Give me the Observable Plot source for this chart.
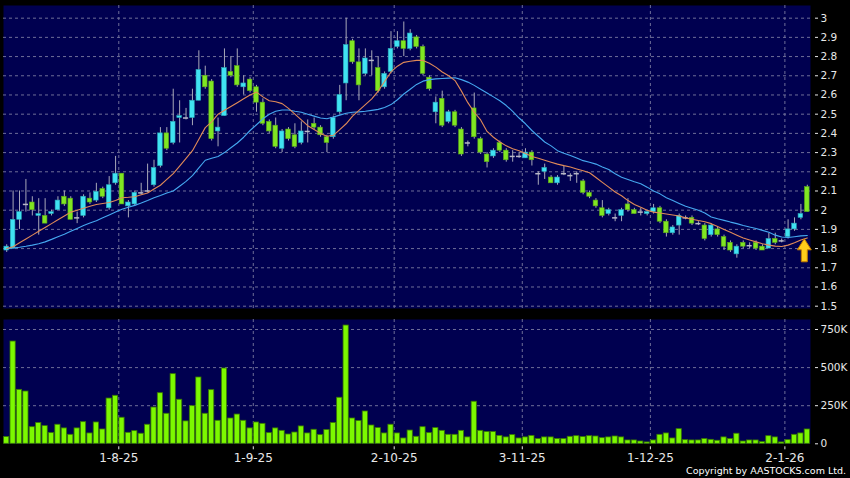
<!DOCTYPE html>
<html>
<head>
<meta charset="utf-8">
<script src="https://cdn.jsdelivr.net/npm/d3@7"></script>
<script src="https://cdn.jsdelivr.net/npm/@observablehq/plot@0.6"></script>
<style>
  html, body { margin: 0; padding: 0; background: #000; }
  #wrap { position: relative; width: 850px; height: 478px; background: #000; overflow: hidden; font-family: "DejaVu Sans", sans-serif; }
  #pricePanel { position: absolute; left: 0; top: 0; }
  #volPanel { position: absolute; left: 0; top: 313px; }
  #copy { position: absolute; right: 4px; top: 465px; color: #fff; font-size: 9.5px; line-height: 12px; white-space: nowrap; }
</style>
</head>
<body>
<div id="wrap">
  <div id="pricePanel"></div>
  <div id="volPanel"></div>
  <div id="copy"></div>
</div>
<script>
// ---- data (one entry per trading day) ----
const opens  = [1.79,1.80,1.95,2.03,2.04,1.97,1.97,1.98,2.00,2.07, 2.06,1.96,1.97,2.06,2.05,2.11,2.01,2.14,2.19,2.02,
                2.03,2.09,2.10,2.13,2.23,2.40,2.35,2.48,2.48,2.48, 2.57,2.70,2.67,2.41,2.49,2.72,2.75,2.64,2.68,2.64,
                2.56,2.46,2.44,2.32,2.42,2.39,2.35,2.41,2.45,2.43, 2.38,2.38,2.51,2.66,2.88,2.77,2.71,2.78,2.74,2.64,
                2.72,2.85,2.88,2.84,2.90,2.85,2.69,2.51,2.58,2.46, 2.51,2.42,2.35,2.53,2.37,2.29,2.28,2.35,2.31,2.28,
                2.28,2.27,2.30,2.19,2.20,2.17,2.14,2.19,2.18,2.19, 2.15,2.09,2.05,2.01,1.98,1.96,1.97,2.03,2.00,1.99,
                1.98,1.99,2.01,1.94,1.88,1.92,1.96,1.96,1.93,1.92, 1.87,1.90,1.86,1.83,1.77,1.83,1.815,1.83,1.81,1.80,
                1.85,1.84,1.86,1.90,1.96,2.12];
const highs  = [1.82,2.10,2.10,2.16,2.07,2.06,2.06,2.00,2.07,2.10, 2.07,1.99,2.08,2.09,2.14,2.12,2.175,2.28,2.19,2.05,
                2.10,2.14,2.24,2.26,2.43,2.43,2.63,2.57,2.53,2.63, 2.83,2.75,2.68,2.48,2.84,2.80,2.84,2.70,2.69,2.65,
                2.58,2.47,2.48,2.42,2.43,2.45,2.46,2.47,2.48,2.44, 2.39,2.49,2.65,3.00,2.89,2.84,2.84,2.83,2.80,2.72,
                2.93,2.93,2.98,2.94,2.91,2.86,2.70,2.59,2.62,2.52, 2.52,2.43,2.36,2.61,2.38,2.30,2.32,2.36,2.32,2.31,
                2.30,2.32,2.31,2.20,2.24,2.18,2.18,2.23,2.19,2.20, 2.16,2.10,2.06,2.05,2.01,1.98,2.01,2.06,2.01,2.01,
                2.00,2.03,2.02,1.95,1.92,1.98,1.97,1.97,1.94,1.93, 1.93,1.91,1.87,1.84,1.82,1.84,1.83,1.84,1.82,1.88,
                1.88,1.85,1.95,1.96,2.03,2.13];
const lows   = [1.78,1.80,1.90,1.99,1.97,1.87,1.93,1.97,2.00,2.02, 1.95,1.93,1.96,2.03,2.04,2.06,2.00,2.13,2.03,1.96,
                2.02,2.08,2.09,2.12,2.22,2.31,2.34,2.35,2.47,2.44, 2.57,2.63,2.36,2.33,2.49,2.69,2.64,2.60,2.61,2.51,
                2.44,2.40,2.32,2.30,2.36,2.32,2.34,2.35,2.42,2.38, 2.30,2.37,2.50,2.57,2.76,2.57,2.70,2.70,2.61,2.63,
                2.71,2.84,2.80,2.83,2.84,2.70,2.62,2.45,2.43,2.45, 2.43,2.28,2.33,2.37,2.29,2.22,2.27,2.30,2.25,2.25,
                2.27,2.27,2.23,2.13,2.16,2.14,2.13,2.18,2.15,2.14, 2.08,2.06,2.01,1.96,1.97,1.94,1.94,1.99,1.98,1.97,
                1.97,1.98,1.93,1.86,1.87,1.87,1.95,1.92,1.92,1.84, 1.86,1.86,1.79,1.78,1.75,1.80,1.80,1.79,1.79,1.80,
                1.82,1.83,1.85,1.89,1.95,1.99];
const closes = [1.81,1.95,1.99,2.03,2.00,1.98,1.93,1.99,2.05,2.03, 1.95,1.96,2.07,2.04,2.095,2.07,2.13,2.19,2.03,2.04,
                2.09,2.09,2.10,2.22,2.40,2.32,2.46,2.49,2.48,2.57, 2.73,2.64,2.37,2.43,2.74,2.70,2.65,2.66,2.62,2.56,
                2.45,2.41,2.33,2.41,2.37,2.33,2.41,2.41,2.43,2.39, 2.35,2.48,2.60,2.86,2.77,2.65,2.79,2.78,2.62,2.71,
                2.84,2.88,2.84,2.92,2.85,2.71,2.63,2.56,2.44,2.51, 2.44,2.29,2.35,2.38,2.30,2.25,2.31,2.31,2.26,2.28,
                2.28,2.30,2.26,2.19,2.22,2.14,2.17,2.19,2.18,2.19, 2.09,2.07,2.02,1.97,2.00,1.96,2.00,2.00,1.98,1.99,
                1.99,2.01,1.94,1.88,1.91,1.97,1.96,1.93,1.93,1.85, 1.92,1.87,1.81,1.79,1.81,1.81,1.815,1.80,1.79,1.85,
                1.83,1.84,1.90,1.93,1.98,1.99];
// volume in thousands of shares
const volumesK = [44,671,354,343,109,136,116,70,125,101, 59,101,142,68,140,94,297,315,171,72,
                  83,66,125,238,332,197,457,289,147,247, 435,197,352,151,494,166,192,151,101,140,
                  131,70,101,85,61,74,114,68,92,57, 90,136,302,776,166,149,212,120,103,68,
                  125,68,35,87,46,109,70,103,85,59, 59,85,42,276,85,77,77,52,42,57,
                  35,42,52,31,42,42,31,31,46,50, 44,50,48,37,42,48,42,22,22,15,
                  9,22,59,68,35,96,24,22,22,31, 26,20,42,31,66,15,22,22,11,50,
                  42,9,24,59,68,94];
// moving averages as drawn (short = orange, long = blue)
const maShort = [1.80,1.81,1.83,1.85,1.87,1.89,1.91,1.93,1.95,1.97, 1.99,2.00,2.01,2.02,2.03,2.035,2.04,2.05,2.065,2.067,
                 2.07,2.08,2.09,2.11,2.13,2.16,2.19,2.23,2.27,2.31, 2.37,2.43,2.46,2.50,2.52,2.54,2.56,2.58,2.60,2.615,
                 2.59,2.57,2.565,2.555,2.53,2.50,2.47,2.44,2.42,2.40, 2.385,2.39,2.42,2.45,2.49,2.52,2.55,2.58,2.62,2.67,
                 2.72,2.75,2.77,2.776,2.78,2.78,2.765,2.745,2.72,2.70, 2.675,2.62,2.56,2.51,2.47,2.41,2.38,2.355,2.335,2.32,
                 2.31,2.295,2.28,2.27,2.26,2.25,2.24,2.232,2.225,2.215, 2.205,2.195,2.17,2.145,2.12,2.095,2.075,2.05,2.03,2.015,
                 2.00,1.99,1.985,1.98,1.975,1.97,1.96,1.953,1.946,1.94, 1.93,1.915,1.90,1.885,1.87,1.855,1.845,1.835,1.825,1.818,
                 1.813,1.811,1.818,1.83,1.845,1.855];
const maLong  = [1.80,1.803,1.807,1.812,1.818,1.825,1.835,1.848,1.862,1.875, 1.89,1.905,1.92,1.933,1.945,1.96,1.975,1.99,2.005,2.015,
                 2.025,2.037,2.05,2.065,2.077,2.09,2.10,2.125,2.15,2.18, 2.22,2.26,2.27,2.28,2.30,2.325,2.35,2.38,2.415,2.445,
                 2.476,2.50,2.515,2.522,2.522,2.515,2.51,2.50,2.49,2.48, 2.476,2.485,2.495,2.505,2.51,2.512,2.515,2.52,2.525,2.535,
                 2.55,2.575,2.605,2.63,2.655,2.672,2.68,2.684,2.686,2.688, 2.69,2.68,2.667,2.65,2.63,2.61,2.59,2.57,2.545,2.515,
                 2.48,2.45,2.415,2.385,2.355,2.335,2.31,2.297,2.285,2.272, 2.258,2.25,2.24,2.225,2.212,2.19,2.172,2.16,2.148,2.138,
                 2.12,2.10,2.085,2.065,2.05,2.035,2.02,2.01,2.00,1.985, 1.965,1.955,1.947,1.938,1.93,1.92,1.912,1.905,1.895,1.885,
                 1.87,1.86,1.858,1.862,1.866,1.868];
// date axis: trading-day index of each labelled date
const tickDayIndex = [18, 39, 61, 81, 101, 122];
const tickLabels = ["1-8-25", "1-9-25", "2-10-25", "3-11-25", "1-12-25", "2-1-26"];
const priceTicks = [1.5,1.6,1.7,1.8,1.9,2.0,2.1,2.2,2.3,2.4,2.5,2.6,2.7,2.8,2.9,3.0];
const volumeTicks = [0, 250000, 500000, 750000];
const volumeTickLabels = ["0", "250K", "500K", "750K"];
const arrowMarker = [{index: 125, price: 1.851}];
const copyright = "Copyright by AASTOCKS.com Ltd.";

// ---- build ----
const candles = opens.map((o, i) => ({i, o, h: highs[i], l: lows[i], c: closes[i], v: volumesK[i] * 1000}));
const bodies = candles.filter(d => d.c !== d.o);
const dojis = candles.filter(d => d.c === d.o);
const shortLine = maShort.map((v, i) => ({i, v}));
const longLine = maLong.map((v, i) => ({i, v}));
const gridX = tickDayIndex.map(i => i - 0.5);
const xDomain = [-0.5, opens.length - 0.5];

const NAVY = "#000050", GRID = "#6e6e98", UP = "#40e2f2", DOWN = "#80e622";
const baseStyle = {background: "#000", color: "#fff", fontFamily: "DejaVu Sans, sans-serif", overflow: "visible"};

const arrowSymbol = {
  draw(ctx) {
    ctx.moveTo(0, 0);
    ctx.lineTo(7, 11);
    ctx.lineTo(3, 11);
    ctx.lineTo(3, 23);
    ctx.lineTo(-3, 23);
    ctx.lineTo(-3, 11);
    ctx.lineTo(-7, 11);
    ctx.closePath();
  }
};

const priceChart = Plot.plot({
  width: 850, height: 313,
  marginLeft: 3, marginRight: 40, marginTop: 5, marginBottom: 5,
  style: baseStyle,
  x: {type: "linear", domain: xDomain, axis: null, label: null},
  y: {domain: [1.488, 3.066], axis: null, label: null},
  marks: [
    Plot.frame({fill: NAVY, stroke: null}),
    Plot.ruleY(priceTicks, {stroke: GRID, strokeDasharray: "3,3"}),
    Plot.ruleX(gridX, {stroke: GRID, strokeDasharray: "3,3"}),
    Plot.axisY(priceTicks, {anchor: "right", label: null, tickSize: 3, dx: 4, tickPadding: 3, fontSize: 10.5,
      tickFormat: d => String(+d.toFixed(1)), color: "#e8e8e8"}),
    Plot.ruleX(candles, {x: "i", y1: "l", y2: "h", stroke: "#a8a8b8", strokeWidth: 1}),
    Plot.rect(bodies, {x1: d => d.i - 0.5, x2: d => d.i + 0.5,
      y1: d => Math.min(d.o, d.c), y2: d => Math.max(d.o, d.c),
      insetLeft: 0.9, insetRight: 0.9,
      fill: d => d.c > d.o ? UP : DOWN,
      stroke: d => d.c > d.o ? "#2aa8b8" : "#5aa818", strokeWidth: 0.6}),
    Plot.ruleY(dojis, {y: "c", x1: d => d.i - 0.4, x2: d => d.i + 0.4, stroke: "#b8b8c8", strokeWidth: 1.5}),
    Plot.line(longLine, {x: "i", y: "v", stroke: "#45a8f0", strokeWidth: 1.1}),
    Plot.line(shortLine, {x: "i", y: "v", stroke: "#e08a58", strokeWidth: 1.1}),
    Plot.dot(arrowMarker, {x: "index", y: "price", symbol: arrowSymbol, dx: -3,
      fill: "#ffcc1a", stroke: "#c07800", strokeWidth: 1})
  ]
});
document.getElementById("pricePanel").appendChild(priceChart);

const volChart = Plot.plot({
  width: 850, height: 165,
  marginLeft: 3, marginRight: 40, marginTop: 6, marginBottom: 34.7,
  style: baseStyle,
  x: {type: "linear", domain: xDomain, axis: null, label: null},
  y: {domain: [0, 815600], axis: null, label: null},
  marks: [
    Plot.frame({fill: NAVY, stroke: null}),
    Plot.ruleY(volumeTicks.slice(1), {stroke: GRID, strokeDasharray: "3,3"}),
    Plot.ruleX(gridX, {stroke: GRID, strokeDasharray: "3,3"}),
    Plot.rect(candles, {x1: d => d.i - 0.5, x2: d => d.i + 0.5, y1: 0, y2: "v",
      insetLeft: 0.6, insetRight: 0.6, fill: "#7cf800", stroke: "#3a7a00", strokeWidth: 0.8}),
    Plot.axisY(volumeTicks, {anchor: "right", label: null, tickSize: 3, dx: 4, tickPadding: 3, fontSize: 10.5,
      tickFormat: d => volumeTickLabels[volumeTicks.indexOf(d)], color: "#e8e8e8"}),
    Plot.axisX(gridX, {anchor: "bottom", label: null, tickSize: 3, dy: 3, tickPadding: 4, fontSize: 12,
      tickFormat: d => tickLabels[gridX.indexOf(d)], color: "#e8e8e8"})
  ]
});
document.getElementById("volPanel").appendChild(volChart);
document.getElementById("copy").textContent = copyright;
</script>
</body>
</html>
